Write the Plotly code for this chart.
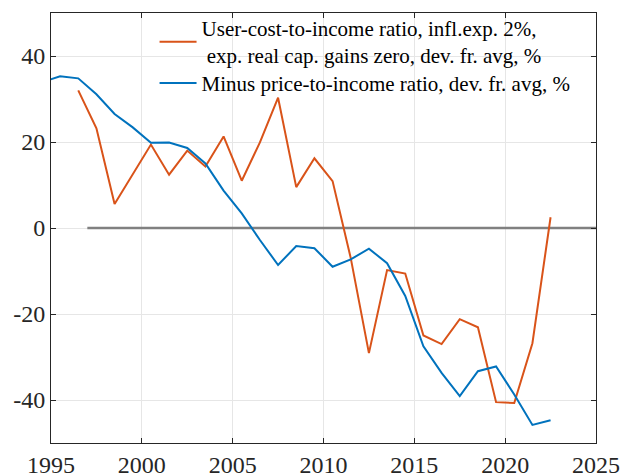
import plotly.graph_objects as go

# --- data ---
years_price = [1994.5, 1995.5, 1996.5, 1997.5, 1998.5, 1999.5, 2000.5, 2001.5, 2002.5,
               2003.5, 2004.5, 2005.5, 2006.5, 2007.5, 2008.5, 2009.5, 2010.5, 2011.5,
               2012.5, 2013.5, 2014.5, 2015.5, 2016.5, 2017.5, 2018.5, 2019.5, 2020.5,
               2021.5, 2022.5]
minus_price_to_income = [33.9, 35.3, 34.8, 31.1, 26.5, 23.4, 19.8, 19.9, 18.6,
                         15.0, 8.7, 3.4, -2.8, -8.6, -4.2, -4.7, -9.0, -7.3,
                         -4.8, -8.2, -15.8, -27.5, -33.7, -39.1, -33.3, -32.2, -38.7,
                         -45.8, -44.7]

years_user = [1996.5, 1997.5, 1998.5, 1999.5, 2000.5, 2001.5, 2002.5, 2003.5, 2004.5,
              2005.5, 2006.5, 2007.5, 2008.5, 2009.5, 2010.5, 2011.5, 2012.5, 2013.5,
              2014.5, 2015.5, 2016.5, 2017.5, 2018.5, 2019.5, 2020.5, 2021.5, 2022.5]
user_cost_to_income = [32.0, 23.2, 5.6, 12.6, 19.4, 12.4, 18.0, 14.3, 21.3,
                       11.0, 19.9, 30.3, 9.5, 16.2, 10.9, -7.0, -29.1, -9.8,
                       -10.6, -25.0, -27.0, -21.2, -23.1, -40.5, -40.7, -26.8, 2.5]

zero_line_x = [1997, 2025]
zero_line_y = [0, 0]

x_ticks = [1995, 2000, 2005, 2010, 2015, 2020, 2025]
y_ticks = [-40, -20, 0, 20, 40]
y_tick_labels = ["-40", "-20", "0", "20", "40"]

name_user = "User-cost-to-income ratio, infl.exp. 2%,<br>\u00a0exp. real cap. gains zero, dev. fr. avg, %"
name_price = "Minus price-to-income ratio, dev. fr. avg, %"

FONT = "Liberation Serif, Times New Roman, serif"

fig = go.Figure()
fig.add_trace(go.Scatter(x=zero_line_x, y=zero_line_y, mode="lines",
                         line=dict(color="#808080", width=2.5), showlegend=False,
                         hoverinfo="skip"))
fig.add_trace(go.Scatter(x=years_user, y=user_cost_to_income, mode="lines",
                         line=dict(color="#D95319", width=2), name=name_user,
                         legend="legend"))
fig.add_trace(go.Scatter(x=years_price, y=minus_price_to_income, mode="lines",
                         line=dict(color="#0072BD", width=2), name=name_price,
                         legend="legend2"))

axis_common = dict(showline=True, linecolor="#262626", linewidth=1, mirror="ticks",
                   ticks="inside", ticklen=5, tickcolor="#262626", automargin=False,
                   showgrid=True, gridcolor="#e6e6e6", gridwidth=1, zeroline=False,
                   tickfont=dict(family=FONT, size=24, color="#262626"))

fig.update_xaxes(range=[1995, 2025], tickvals=x_ticks, **axis_common)
fig.update_yaxes(range=[-50, 50], tickvals=y_ticks, ticktext=y_tick_labels, **axis_common)

legend_common = dict(xanchor="left", yanchor="top", bgcolor="rgba(0,0,0,0)",
                     borderwidth=0, font=dict(family=FONT, size=21, color="black"),
                     tracegroupgap=0, itemwidth=37)

fig.update_layout(
    width=622, height=474,
    margin=dict(l=51, r=26, t=13, b=31, autoexpand=False),
    paper_bgcolor="white", plot_bgcolor="white",
    font=dict(family=FONT, size=21, color="black"),
    legend=dict(x=0.19, y=1.012, **legend_common),
    legend2=dict(x=0.19, y=0.884, **legend_common),
    showlegend=True,
)

fig.write_html("out.html", config={"displayModeBar": False},
               post_script="document.body.style.margin='0';")
